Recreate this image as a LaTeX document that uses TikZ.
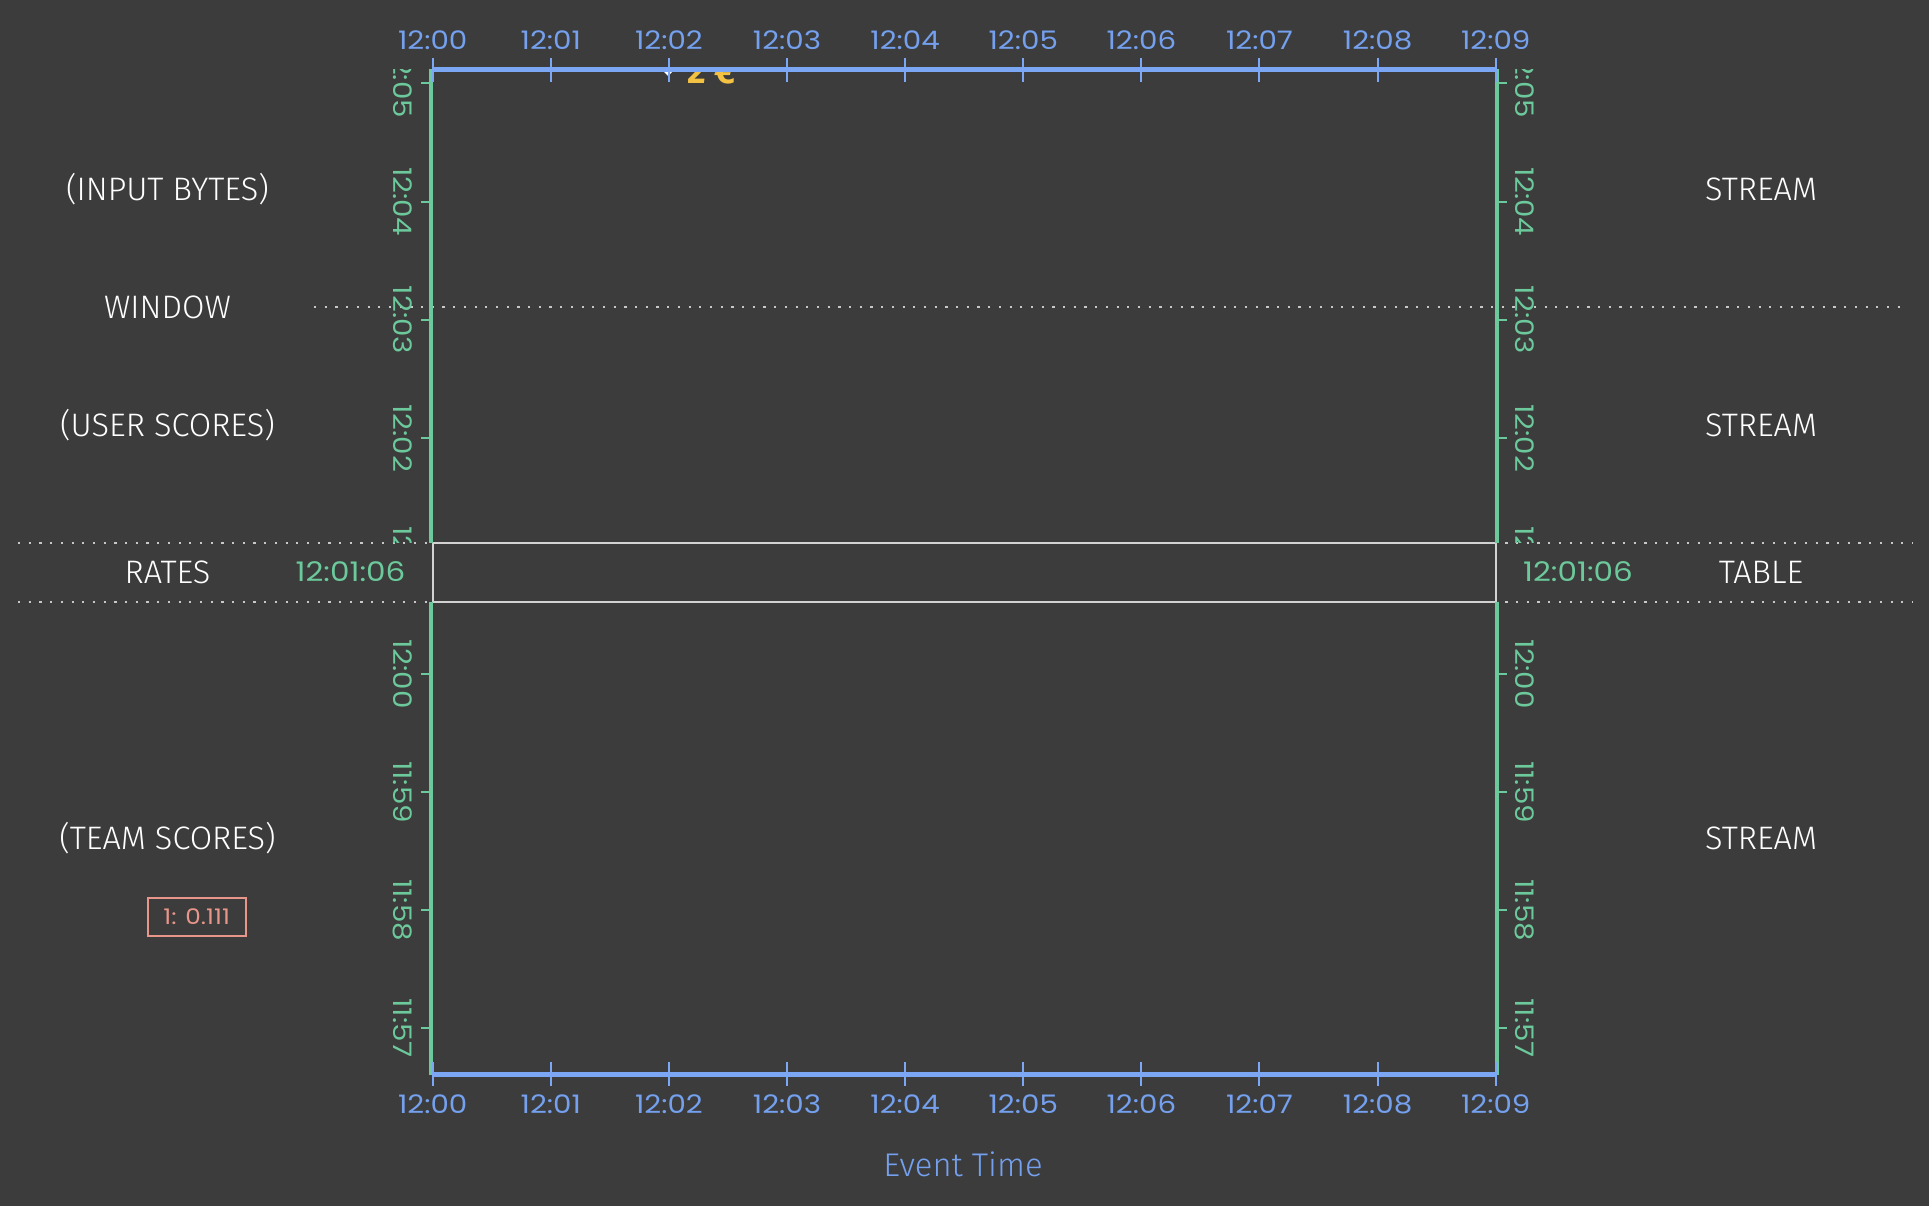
\documentclass[tikz,border=0pt]{standalone}
\usepackage{fontspec}
\IfFontExistsTF{Fira Sans Light}{\setmainfont{Fira Sans Light}}{\setmainfont{Fira Sans}}
\newfontfamily\timefont{Poppins}[FakeStretch=1.15]
\newfontfamily\boldfont{Fira Sans}[UprightFont=* Bold]
\definecolor{bg}{HTML}{3C3C3C}
\definecolor{axisblue}{HTML}{7BA7F5}
\definecolor{lblblue}{HTML}{74A0EE}
\definecolor{grn}{HTML}{6CC99B}
\definecolor{dotgray}{HTML}{C8C8C8}
\definecolor{bandgray}{HTML}{D2D2D2}
\definecolor{pinkc}{HTML}{E8958A}
\definecolor{yell}{HTML}{F4C243}
\begin{document}
\begin{tikzpicture}[x=1pt,y=-1pt,
  lab/.style={text=white, font=\fontsize{32.5}{38}\selectfont, inner sep=0pt},
  toplab/.style={text=lblblue, font=\timefont\fontsize{25.5}{30}\selectfont, inner sep=0pt},
  vlab/.style={text=grn, font=\timefont\fontsize{25.5}{30}\selectfont, rotate=-90, inner sep=0pt},
  bandlab/.style={text=grn, font=\timefont\fontsize{27}{32}\selectfont, inner sep=0pt},
  axisline/.style={draw=axisblue, line width=5pt},
  bluetick/.style={draw=axisblue, line width=2pt},
  vaxis/.style={draw=grn, line width=4pt},
  gtick/.style={draw=grn, line width=2pt},
  dotline/.style={draw=dotgray, line width=2.2pt, dash pattern=on 2.2pt off 8.5pt},
  bandbox/.style={draw=bandgray, line width=1.6pt},
  valbox/.style={draw=pinkc, line width=2pt, text=pinkc, font=\timefont\fontsize{21.5}{24}\selectfont,
    minimum width=98pt, minimum height=38pt, inner sep=0pt}
]
\fill[bg] (0,0) rectangle (1929,1206);
\useasboundingbox (0,0) rectangle (1929,1206);

% dotted guide lines
\draw[dotline] (314,306.7) -- (1907,306.7);
\draw[dotline] (18,542.7) -- (1913,542.7);
\draw[dotline] (18,601.7) -- (1913,601.7);

% band box
\draw[bandbox] (432.7,542.7) rectangle (1495.7,601.7);

% upper region
\begin{scope}
  \clip (0,70) rectangle (1929,542.7);
  \draw[vaxis] (431,60) -- (431,542.7);
  \draw[vaxis] (1496.7,60) -- (1496.7,542.7);
  \foreach \m/\yy in {5/83.4,4/201.7,3/320,2/438.3,1/556.6}{
    \draw[gtick] (431,\yy) -- (421,\yy);
    \draw[gtick] (1496.7,\yy) -- (1507,\yy);
    \node[vlab] (ul\m) at (403,\yy) {12:0\m};
    \node[vlab] (ur\m) at (1525,\yy) {12:0\m};
  }
  \node[text=yell, font=\boldfont\fontsize{36}{40}\selectfont, anchor=base, inner sep=0pt] (price) at (712,84) {2 €};
  \coordinate (mark) at (668,68);
  \fill[white] ([xshift=-8pt]mark) -- ([yshift=-8pt]mark) -- ([xshift=8pt]mark) -- ([yshift=8pt]mark) -- cycle;
\end{scope}

% lower region
\begin{scope}
  \clip (0,601.7) rectangle (1929,1074);
  \draw[vaxis] (431,601.7) -- (431,1080);
  \draw[vaxis] (1496.7,601.7) -- (1496.7,1080);
  \foreach \lbl/\yy [count=\k] in {12:00/674,11:59/792,11:58/910,11:57/1028}{
    \draw[gtick] (431,\yy) -- (421,\yy);
    \draw[gtick] (1496.7,\yy) -- (1507,\yy);
    \node[vlab] (ll\k) at (403,\yy) {\lbl};
    \node[vlab] (lr\k) at (1525,\yy) {\lbl};
  }
\end{scope}

% event-time axes
\draw[axisline] (432.7,70) -- (1495.7,70);
\draw[axisline] (432.7,1074) -- (1495.7,1074);
\foreach \i in {0,...,9}{
  \pgfmathsetmacro{\xx}{432.7+118.11*\i}
  \draw[bluetick] (\xx,58) -- (\xx,82);
  \draw[bluetick] (\xx,1062) -- (\xx,1086);
  \node[toplab] (top\i) at (\xx,40.5) {12:0\i};
  \node[toplab] (bot\i) at (\xx,1104) {12:0\i};
}

% band labels
\node[bandlab] (bandL) at (350.5,572) {12:01:06};
\node[bandlab] (bandR) at (1578,572) {12:01:06};

% left column
\node[lab] (inbytes) at (167.5,189) {(INPUT BYTES)};
\node[lab] (window) at (167.5,307) {WINDOW};
\node[lab] (userscores) at (167.5,425) {(USER SCORES)};
\node[lab] (rates) at (167.5,572) {RATES};
\node[lab] (teamscores) at (167.5,838) {(TEAM SCORES)};
\node[valbox] (val) at (196.7,917) {1: 0.111};

% right column
\node[lab] (s1) at (1761,189) {STREAM};
\node[lab] (s2) at (1761,425) {STREAM};
\node[lab] (tbl) at (1761,572) {TABLE};
\node[lab] (s3) at (1761,838) {STREAM};

% axis title
\node[text=lblblue, font=\fontsize{32.8}{38}\selectfont, inner sep=0pt] (etime) at (963,1164) {Event Time};
\end{tikzpicture}
\end{document}
